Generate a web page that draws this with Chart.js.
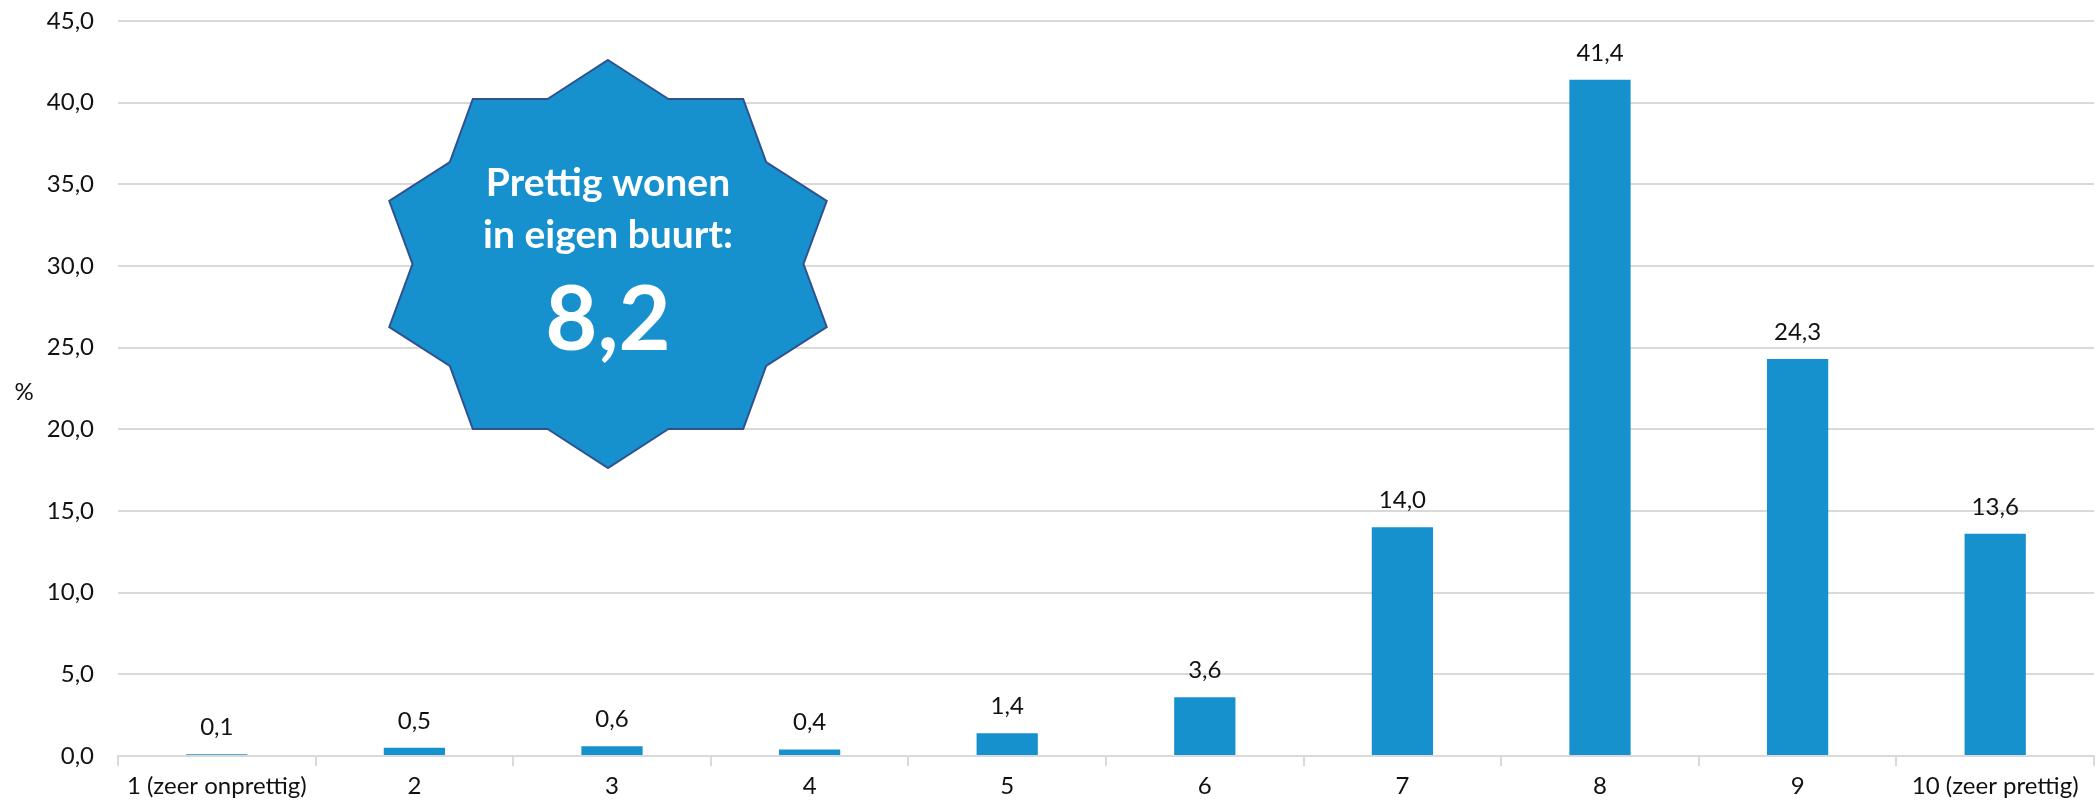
<!DOCTYPE html>
<html>
<head>
<meta charset="utf-8">
<script src="https://cdn.jsdelivr.net/npm/chart.js@4/dist/chart.umd.min.js"></script>
<style>
  html, body { margin: 0; padding: 0; background: #fff; }
  #wrap { width: 2097px; height: 805px; }
</style>
</head>
<body>
<div id="wrap"><canvas id="scoreChart" width="2097" height="805"></canvas></div>
<script>
const categories = ['1 (zeer onprettig)', '2', '3', '4', '5', '6', '7', '8', '9', '10 (zeer prettig)'];
const percentages = [0.1, 0.5, 0.6, 0.4, 1.4, 3.6, 14.0, 41.4, 24.3, 13.6];
const badgeLines = ['Prettig wonen', 'in eigen buurt:'];
const badgeScore = '8,2';

const barColor = '#1791ce';
const gridColor = '#d9d9d9';
const fontName = 'Lato, "Open Sans", sans-serif';

const fmt = v => v.toFixed(1).replace('.', ',');

// value labels above bars, the "%" axis label and the star badge
const extras = {
    id: 'extras',
    beforeDatasetsDraw(chart) {
        const ctx = chart.ctx;
        // star badge
        const cx = 608, cy = 264, rx = 230, ry = 204, inner = 0.85;
        ctx.save();
        ctx.beginPath();
        for (let i = 0; i < 20; i++) {
            const ang = Math.PI / 2 - i * Math.PI / 10;
            const k = i % 2 === 0 ? 1 : inner;
            const x = cx + rx * k * Math.cos(ang);
            const y = cy - ry * k * Math.sin(ang);
            if (i === 0) ctx.moveTo(x, y); else ctx.lineTo(x, y);
        }
        ctx.closePath();
        ctx.fillStyle = barColor;
        ctx.fill();
        ctx.lineWidth = 2;
        ctx.strokeStyle = '#2f528f';
        ctx.stroke();
        ctx.fillStyle = '#fff';
        ctx.textAlign = 'center';
        ctx.textBaseline = 'alphabetic';
        ctx.font = 'bold 39px ' + fontName;
        ctx.fillText(badgeLines[0], cx, 196);
        ctx.fillText(badgeLines[1], cx, 248);
        ctx.font = 'bold 90px ' + fontName;
        ctx.fillText(badgeScore, cx, 350);
        ctx.restore();
    },
    afterDatasetsDraw(chart) {
        const ctx = chart.ctx;
        ctx.save();
        ctx.fillStyle = '#111';
        ctx.font = '24px ' + fontName;
        ctx.textAlign = 'center';
        ctx.textBaseline = 'middle';
        chart.getDatasetMeta(0).data.forEach((bar, i) => {
            ctx.fillText(fmt(percentages[i]), bar.x, bar.y - 27);
        });
        ctx.fillText('%', 24, 392);
        ctx.restore();
    }
};

new Chart(document.getElementById('scoreChart').getContext('2d'), {
    type: 'bar',
    data: {
        labels: categories,
        datasets: [{
            data: percentages,
            backgroundColor: barColor,
            categoryPercentage: 1.0,
            barPercentage: 0.31
        }]
    },
    options: {
        responsive: false,
        animation: false,
        layout: { padding: { top: 21, right: 3, left: 0, bottom: 0 } },
        plugins: { legend: { display: false }, tooltip: { enabled: false } },
        scales: {
            x: {
                grid: { offset: true, drawOnChartArea: false, color: gridColor, lineWidth: 2, tickLength: 10 },
                border: { color: gridColor, width: 2 },
                ticks: { color: '#111', font: { family: fontName, size: 24 }, padding: 6, maxRotation: 0 },
                afterFit: s => { s.height = 49; s.paddingLeft = 0; s.paddingRight = 0; }
            },
            y: {
                min: 0,
                max: 45,
                ticks: { stepSize: 5, color: '#111', font: { family: fontName, size: 24 }, padding: 24, callback: v => fmt(v) },
                grid: { color: gridColor, lineWidth: 2, drawTicks: false },
                border: { display: false },
                afterFit: s => { s.width = 118; s.paddingTop = 0; s.paddingBottom = 0; }
            }
        }
    },
    plugins: [extras]
});
</script>
</body>
</html>
